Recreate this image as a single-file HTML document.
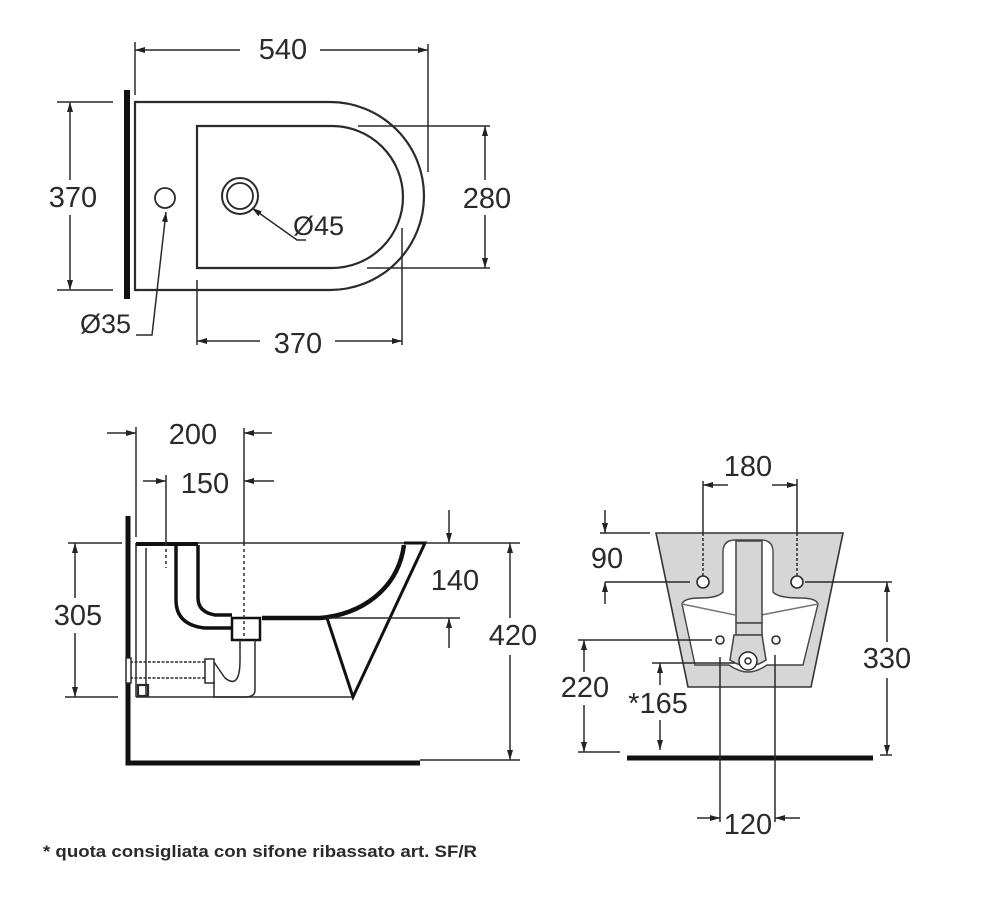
<!DOCTYPE html>
<html><head><meta charset="utf-8"><style>
html,body{margin:0;padding:0;background:#fff;}
svg{display:block}
text{font-family:"Liberation Sans",sans-serif;fill:#2a2a2a;}
.d{font-size:29px;}
</style></head><body>
<svg width="1000" height="903" viewBox="0 0 1000 903" xmlns="http://www.w3.org/2000/svg">
<defs>
<marker id="a" viewBox="0 0 10 6" refX="10" refY="3" markerWidth="10" markerHeight="6" orient="auto-start-reverse" markerUnits="userSpaceOnUse"><path d="M0,0 L10,3 L0,6 z" fill="#222"/></marker>
</defs>
<g stroke="#2a2a2a" stroke-width="1.5" fill="none">
<!-- TOP VIEW -->
<line x1="127" y1="90" x2="127" y2="299" stroke="#111" stroke-width="6"/>
<path d="M135,102 H330 A94,94 0 0 1 330,290 H135 Z" stroke-width="2.2"/>
<path d="M197,126 H332 A71,71 0 0 1 332,268 H197 Z" stroke-width="2.2"/>
<circle cx="165" cy="198" r="10" stroke-width="1.8"/>
<circle cx="240" cy="196" r="18" stroke-width="2"/>
<circle cx="240" cy="196" r="13" stroke-width="1.8"/>
<path d="M252,208 L297,240 H306" marker-start="url(#a)"/>
<line x1="135" y1="42" x2="135" y2="95"/>
<line x1="428" y1="44" x2="428" y2="172"/>
<line x1="135" y1="50" x2="240" y2="50" marker-start="url(#a)"/>
<line x1="320" y1="50" x2="428" y2="50" marker-end="url(#a)"/>
<line x1="57" y1="102" x2="113" y2="102"/>
<line x1="57" y1="290" x2="113" y2="290"/>
<line x1="70" y1="102" x2="70" y2="180" marker-start="url(#a)"/>
<line x1="70" y1="215" x2="70" y2="290" marker-end="url(#a)"/>
<line x1="358" y1="126" x2="490" y2="126"/>
<line x1="367" y1="268" x2="490" y2="268"/>
<line x1="485" y1="126" x2="485" y2="180" marker-start="url(#a)"/>
<line x1="485" y1="215" x2="485" y2="268" marker-end="url(#a)"/>
<line x1="197" y1="280" x2="197" y2="345"/>
<line x1="402" y1="228" x2="402" y2="345"/>
<line x1="197" y1="341" x2="260" y2="341" marker-start="url(#a)"/>
<line x1="335" y1="341" x2="402" y2="341" marker-end="url(#a)"/>
<path d="M136,335 H152 L166,212" marker-end="url(#a)"/>

<!-- SIDE VIEW -->
<path d="M128,516 V763 H420" stroke="#111" stroke-width="5"/>
<line x1="136" y1="543" x2="425" y2="543"/>
<line x1="136" y1="697" x2="353" y2="697"/>
<line x1="136" y1="543" x2="136" y2="697"/>
<line x1="146" y1="548" x2="146" y2="697"/>
<line x1="136" y1="544" x2="198" y2="544" stroke-width="4" stroke="#111"/>
<path d="M404,543 H425 L353,697 L327,618" stroke="#111" stroke-width="3"/>
<path d="M404,545 C398,590 360,615 320,618 H262" stroke="#111" stroke-width="4.5"/>
<path d="M176,545 V600 Q176,625 205,628 H232" stroke="#111" stroke-width="3.5"/>
<path d="M198,545 V598 Q198,612 215,615 H232" stroke="#111" stroke-width="3.5"/>
<rect x="232" y="618" width="28" height="22" stroke="#111" stroke-width="2.5"/>
<path d="M240,640 V660 M255,640 V690 Q255,697 245,697 H214 V682 M240,660 Q240,690 225,678 Q218,668 214,662" stroke-width="1.5"/>
<rect x="205" y="659" width="9" height="24"/>
<line x1="130" y1="662" x2="205" y2="662" stroke-dasharray="3,1.5"/>
<line x1="130" y1="678" x2="205" y2="678" stroke-dasharray="3,1.5"/>
<rect x="126" y="658" width="5" height="25" fill="#fff"/>
<rect x="138" y="685" width="10" height="11" stroke-width="2.2"/>
<line x1="136" y1="427" x2="136" y2="537"/>
<line x1="244" y1="428" x2="244" y2="543"/>
<line x1="244" y1="543" x2="244" y2="640" stroke-dasharray="3,3"/>
<line x1="107" y1="433" x2="136" y2="433" marker-end="url(#a)"/>
<line x1="272" y1="433" x2="244" y2="433" marker-end="url(#a)"/>
<line x1="166" y1="475" x2="166" y2="543"/>
<line x1="166" y1="543" x2="166" y2="568" stroke-dasharray="3,3"/>
<line x1="143" y1="481" x2="166" y2="481" marker-end="url(#a)"/>
<line x1="274" y1="481" x2="244" y2="481" marker-end="url(#a)"/>
<line x1="425" y1="543" x2="520" y2="543"/>
<line x1="327" y1="618" x2="460" y2="618"/>
<line x1="449" y1="510" x2="449" y2="543" marker-end="url(#a)"/>
<line x1="449" y1="648" x2="449" y2="618" marker-end="url(#a)"/>
<line x1="68" y1="543" x2="122" y2="543"/>
<line x1="65" y1="697" x2="118" y2="697"/>
<line x1="75" y1="543" x2="75" y2="598" marker-start="url(#a)"/>
<line x1="75" y1="633" x2="75" y2="697" marker-end="url(#a)"/>
<line x1="420" y1="760" x2="520" y2="760"/>
<line x1="510" y1="543" x2="510" y2="618" marker-start="url(#a)"/>
<line x1="510" y1="655" x2="510" y2="760" marker-end="url(#a)"/>

<!-- FRONT VIEW -->
<path d="M656,533 H843 L811,687 H688 Z" fill="#d6d6d6" stroke="#333" stroke-width="1.6"/>
<path d="M723,592 V552 Q723,540 735,540 H761 Q773,540 773,552 V592 Q778,598 800,598 Q816,598 818,604 L803,665 H767 Q757,672 748,672 Q739,672 729,665 H695 L682,604 Q684,598 700,598 Q718,598 723,592 Z" fill="#fff" stroke="#444" stroke-width="1.4"/>
<path d="M682,604 L735,615 M818,604 L761,615" stroke="#777"/>
<rect x="736" y="541" width="26" height="82" fill="#d6d6d6" stroke="#444"/>
<rect x="736" y="623" width="26" height="12" fill="#d6d6d6" stroke="#444"/>
<path d="M734,635 H762 L766,660 Q748,672 730,660 Z" fill="#d6d6d6" stroke="#444"/>
<circle cx="703" cy="582" r="6" fill="#fff" stroke-width="1.6"/>
<circle cx="797" cy="582" r="6" fill="#fff" stroke-width="1.6"/>
<circle cx="720" cy="640" r="4"/>
<circle cx="776" cy="640" r="4"/>
<circle cx="748" cy="661" r="9" fill="#fff"/>
<circle cx="748" cy="661" r="3"/>
<line x1="627" y1="758" x2="873" y2="758" stroke="#111" stroke-width="5"/>
<line x1="703" y1="481" x2="703" y2="533"/>
<line x1="703" y1="533" x2="703" y2="576" stroke-dasharray="3,2"/>
<line x1="797" y1="479" x2="797" y2="533"/>
<line x1="797" y1="533" x2="797" y2="576" stroke-dasharray="3,2"/>
<line x1="728" y1="485" x2="703" y2="485" marker-end="url(#a)"/>
<line x1="772" y1="485" x2="797" y2="485" marker-end="url(#a)"/>
<line x1="600" y1="533" x2="650" y2="533"/>
<line x1="605" y1="582" x2="690" y2="582"/>
<line x1="605" y1="510" x2="605" y2="533" marker-end="url(#a)"/>
<line x1="605" y1="604" x2="605" y2="582" marker-end="url(#a)"/>
<line x1="805" y1="582" x2="892" y2="582"/>
<line x1="880" y1="755" x2="892" y2="755"/>
<line x1="887" y1="582" x2="887" y2="642" marker-start="url(#a)"/>
<line x1="887" y1="678" x2="887" y2="755" marker-end="url(#a)"/>
<line x1="578" y1="640" x2="712" y2="640"/>
<line x1="578" y1="752" x2="620" y2="752"/>
<line x1="584" y1="640" x2="584" y2="672" marker-start="url(#a)"/>
<line x1="584" y1="705" x2="584" y2="752" marker-end="url(#a)"/>
<line x1="652" y1="663" x2="735" y2="663"/>
<line x1="660" y1="663" x2="660" y2="685" marker-start="url(#a)"/>
<line x1="660" y1="720" x2="660" y2="750" marker-end="url(#a)"/>
<line x1="720" y1="657" x2="720" y2="822"/>
<line x1="775" y1="655" x2="775" y2="822"/>
<line x1="697" y1="818" x2="720" y2="818" marker-end="url(#a)"/>
<line x1="800" y1="818" x2="775" y2="818" marker-end="url(#a)"/>
</g>
<g class="d">
<text x="283" y="59" text-anchor="middle">540</text>
<text x="73" y="207" text-anchor="middle">370</text>
<text x="487" y="208" text-anchor="middle">280</text>
<text x="298" y="353" text-anchor="middle">370</text>
<text x="293" y="235" font-size="27">Ø45</text>
<text x="80" y="333" font-size="27">Ø35</text>
<text x="193" y="444" text-anchor="middle">200</text>
<text x="205" y="493" text-anchor="middle">150</text>
<text x="455" y="590" text-anchor="middle">140</text>
<text x="78" y="625" text-anchor="middle">305</text>
<text x="513" y="645" text-anchor="middle">420</text>
<text x="748" y="476" text-anchor="middle">180</text>
<text x="607" y="568" text-anchor="middle">90</text>
<text x="887" y="668" text-anchor="middle">330</text>
<text x="585" y="697" text-anchor="middle">220</text>
<text x="658" y="713" text-anchor="middle">*165</text>
<text x="748" y="834" text-anchor="middle">120</text>
</g>
<text x="43" y="857" font-size="17" font-weight="bold" textLength="434" lengthAdjust="spacingAndGlyphs">* quota consigliata con sifone ribassato art. SF/R</text>
</svg>
</body></html>
